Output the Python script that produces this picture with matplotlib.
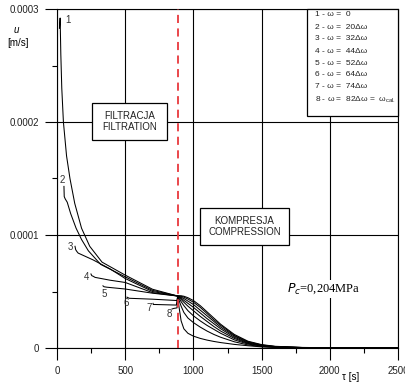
import numpy as np
import matplotlib
matplotlib.use("Agg")
import matplotlib.pyplot as plt
from matplotlib.patches import Rectangle
from matplotlib.ticker import FixedLocator, MultipleLocator

plt.rcParams['font.family'] = ['Liberation Sans', 'DejaVu Sans']

# ---------------- data (u in units of 1e-5 m/s, tau in s) ----------------
SCALE = 1e-5

# filtration phase (each curve has its own start)
T1_F = [18, 23, 28, 35, 47, 70, 95, 130, 180, 240, 330, 500, 700]
U1_F = [28.3, 29.2, 26.0, 23.0, 20.0, 17.0, 15.0, 12.8, 10.6, 9.0, 7.6, 6.45, 5.2]
T2_F = [51, 53, 60, 75, 100, 140, 180, 230, 320, 500, 700]
U2_F = [14.3, 13.4, 13.2, 12.9, 11.9, 10.6, 9.6, 8.6, 7.4, 6.3, 5.1]
T3_F = [132, 137, 145, 155, 264, 389, 500, 700]
U3_F = [9.0, 8.7, 8.55, 8.4, 7.8, 7.0, 6.15, 5.0]
T4_F = [249, 255, 265, 279, 389, 500, 700]
U4_F = [6.55, 6.4, 6.35, 6.25, 6.0, 5.8, 4.9]
T5_F = [337, 345, 366, 500, 700]
U5_F = [5.5, 5.42, 5.38, 5.22, 4.85]
T6_F = [513, 530, 700, 880]
U6_F = [4.5, 4.4, 4.32, 4.2]
T7_F = [704, 706, 720, 875]
U7_F = [3.95, 3.85, 3.85, 3.8]
T8_F = [843, 855, 880]
U8_F = [3.45, 3.5, 3.55]

# compression phase (common time grid, starting at the switch time)
T_C = [885, 895, 910, 930, 960, 1000, 1050, 1100, 1150, 1200, 1300, 1400,
       1500, 1600, 1800, 2000, 2500]
U1_C = [4.6, 4.62, 4.62, 4.58, 4.45, 4.2, 3.75, 3.2, 2.65, 2.1, 1.2, 0.6, 0.3, 0.15, 0.05, 0.02, 0.0]
U2_C = [4.6, 4.6, 4.58, 4.5, 4.33, 4.05, 3.6, 3.05, 2.5, 2.0, 1.12, 0.55, 0.27, 0.13, 0.04, 0.02, 0.0]
U3_C = [4.6, 4.58, 4.5, 4.38, 4.15, 3.85, 3.35, 2.85, 2.35, 1.85, 1.05, 0.5, 0.25, 0.12, 0.04, 0.01, 0.0]
U4_C = [4.6, 4.55, 4.42, 4.22, 3.95, 3.6, 3.1, 2.6, 2.15, 1.7, 0.95, 0.45, 0.22, 0.1, 0.03, 0.01, 0.0]
U5_C = [4.6, 4.5, 4.3, 4.05, 3.7, 3.3, 2.8, 2.35, 1.9, 1.5, 0.85, 0.4, 0.2, 0.09, 0.03, 0.01, 0.0]
U6_C = [4.6, 4.4, 4.1, 3.75, 3.3, 2.85, 2.4, 2.0, 1.65, 1.3, 0.72, 0.35, 0.17, 0.08, 0.02, 0.01, 0.0]
U7_C = [4.6, 4.2, 3.7, 3.15, 2.65, 2.25, 1.85, 1.5, 1.2, 0.95, 0.55, 0.27, 0.13, 0.06, 0.02, 0.0, 0.0]
U8_C = [4.6, 3.6, 2.4, 1.7, 1.3, 1.05, 0.85, 0.7, 0.58, 0.48, 0.32, 0.2, 0.1, 0.05, 0.01, 0.0, 0.0]

SWITCH_TIME = 885

CURVE_LABELS = ["1", "2", "3", "4", "5", "6", "7", "8"]
LABEL_T = [80, 37, 95, 213, 345, 506, 675, 821]
LABEL_U = [29.0, 14.9, 8.9, 6.3, 4.8, 4.0, 3.5, 3.0]

LEGEND_LINES = ["1 - ω =  0", "2 - ω =  20Δω", "3 - ω =  32Δω", "4 - ω =  44Δω",
                "5 - ω =  52Δω", "6 - ω =  64Δω", "7 - ω =  74Δω",
                r"8 - ω =  82Δω =  ω$_{\mathregular{cal.}}$"]

X_TICKS = [0, 500, 1000, 1500, 2000, 2500]
Y_TICKS = [0, 0.0001, 0.0002, 0.0003]
Y_TICK_LABELS = ["0", "0.0001", "0.0002", "0.0003"]

# ---------------- figure ----------------
W, H = 406, 384
fig = plt.figure(figsize=(W / 100, H / 100), dpi=100)
ax = fig.add_axes([57 / W, 1 - 348 / H, (398 - 57) / W, (348 - 9) / H])
ax.set_xlim(0, 2500)
ax.set_ylim(0, 0.0003)

filt = [(T1_F, U1_F), (T2_F, U2_F), (T3_F, U3_F), (T4_F, U4_F),
        (T5_F, U5_F), (T6_F, U6_F), (T7_F, U7_F), (T8_F, U8_F)]
comp = [U1_C, U2_C, U3_C, U4_C, U5_C, U6_C, U7_C, U8_C]
for (tf, uf), uc in zip(filt, comp):
    t = np.array(list(tf) + list(T_C))
    u = np.array(list(uf) + list(uc)) * SCALE
    ax.plot(t, u, color='black', lw=0.75, zorder=3, clip_on=False)

for lab, lt, lu in zip(CURVE_LABELS, LABEL_T, LABEL_U):
    ax.text(lt, lu * SCALE, lab, fontsize=7, ha='center', va='center', color='#333333', zorder=4)

ax.axvline(SWITCH_TIME, color='#e8383d', lw=1.3, ls=(0, (4.5, 3)), zorder=5)

# grid / ticks
ax.xaxis.set_major_locator(FixedLocator(X_TICKS))
ax.xaxis.set_minor_locator(MultipleLocator(250))
ax.yaxis.set_major_locator(FixedLocator(Y_TICKS))
ax.yaxis.set_minor_locator(MultipleLocator(0.00005))
ax.set_yticklabels(Y_TICK_LABELS)
ax.set_xticklabels([str(v) for v in X_TICKS])
ax.grid(True, which='major', color='black', lw=0.8, zorder=1)
ax.set_axisbelow(True)
ax.tick_params(which='major', direction='out', length=8.6, width=0.8, labelsize=7,
               colors='black', labelcolor='#222222', pad=4)
ax.tick_params(which='minor', direction='out', length=3.6, width=0.8)
for s in ax.spines.values():
    s.set_linewidth(0.8)

# boxes
def box(x0, x1, y0, y1, text, fs=7):
    r = Rectangle((x0, y0), x1 - x0, y1 - y0, facecolor='white', edgecolor='black',
                  lw=0.9, zorder=6)
    ax.add_patch(r)
    ax.text((x0 + x1) / 2, (y0 + y1) / 2, text, ha='center', va='center',
            fontsize=fs, zorder=7, color='#222222', linespacing=1.1)

box(257, 809, 1.84e-4, 2.17e-4, "FILTRACJA\nFILTRATION")
box(1048, 1700, 0.91e-4, 1.24e-4, "KOMPRESJA\nCOMPRESSION")

# legend box
lg = Rectangle((1833, 2.05e-4), 2500 - 1833, 3.0e-4 - 2.05e-4, facecolor='white',
               edgecolor='black', lw=0.9, zorder=6, clip_on=False)
ax.add_patch(lg)
leg_y = [2.947, 2.84, 2.735, 2.628, 2.522, 2.416, 2.31, 2.195]
for line, yy in zip(LEGEND_LINES, leg_y):
    ax.text(1892, yy * 1e-4, line, fontsize=6, ha='left', va='center', zorder=7,
            color='#222222')

# pressure annotation
ax.text(1686, 0.522e-4, r"$P_c$=0,204MPa", fontsize=9, ha='left', va='center',
        family='Liberation Serif', zorder=7,
        bbox=dict(facecolor='white', edgecolor='none', pad=1))

# axis labels as figure texts
fig.text(16 / W, 1 - 30 / H, "u", fontsize=7, style='italic', ha='center', va='center')
fig.text(18 / W, 1 - 43 / H, "[m/s]", fontsize=7, ha='center', va='center')
fig.text(351 / W, 1 - 377 / H, "τ [s]", fontsize=7, ha='center', va='center')

fig.savefig("out.png", dpi=100)
